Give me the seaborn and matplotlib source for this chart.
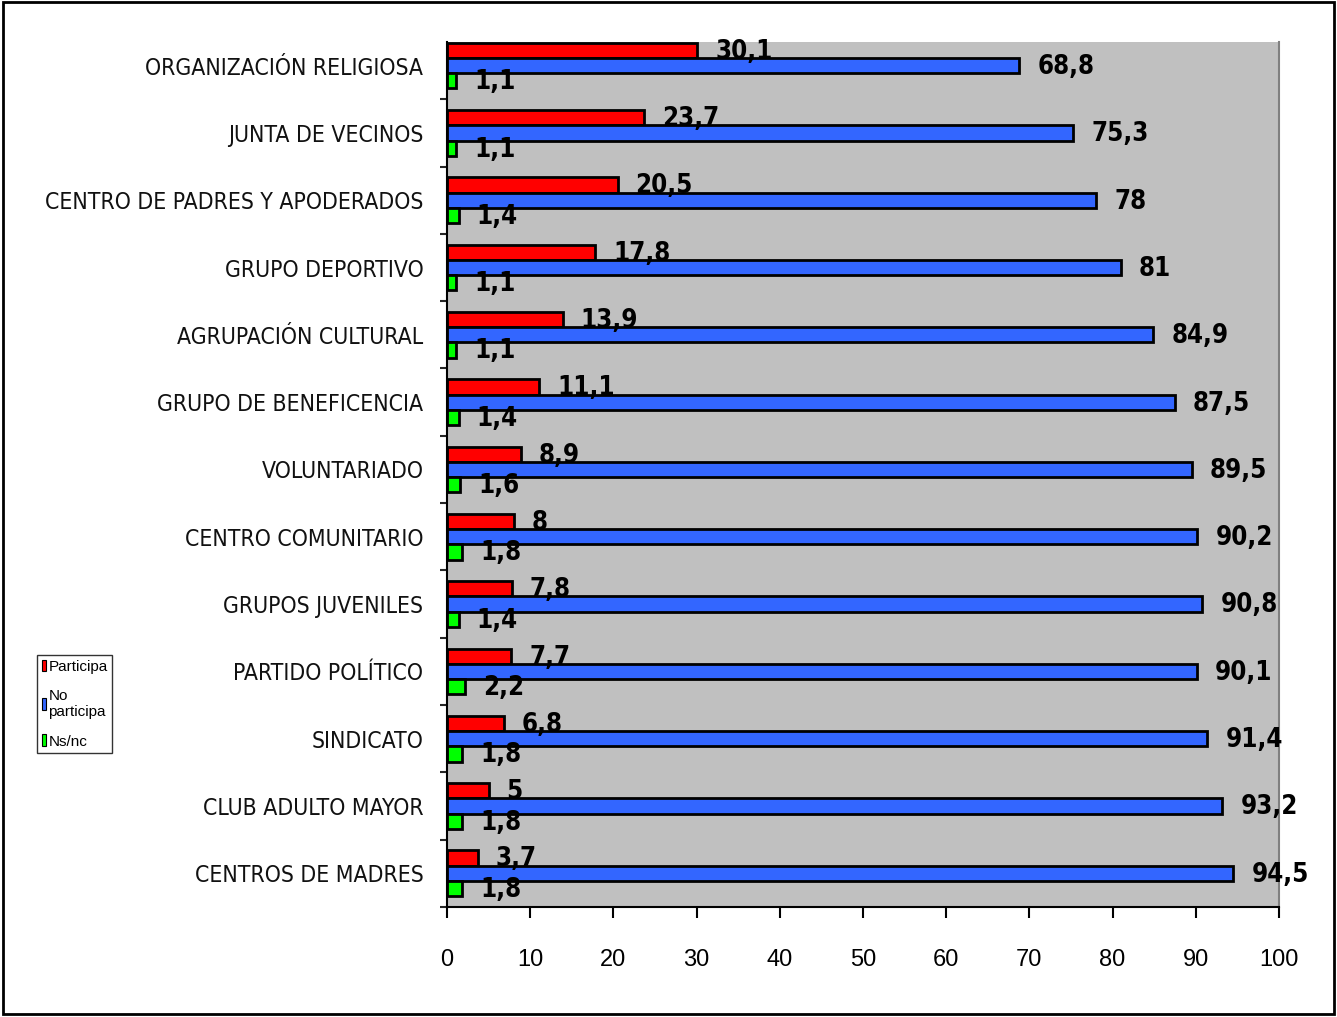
import numpy as np
import pandas as pd
import matplotlib
matplotlib.use("Agg")
import matplotlib.pyplot as plt
import matplotlib.patches as mpatches
from matplotlib import font_manager as fm
import seaborn as sns

categories = ["ORGANIZACIÓN RELIGIOSA", "JUNTA DE VECINOS", "CENTRO DE PADRES Y APODERADOS",
              "GRUPO DEPORTIVO", "AGRUPACIÓN CULTURAL", "GRUPO DE BENEFICENCIA",
              "VOLUNTARIADO", "CENTRO COMUNITARIO", "GRUPOS JUVENILES", "PARTIDO POLÍTICO",
              "SINDICATO", "CLUB ADULTO MAYOR", "CENTROS DE MADRES"]
participa = [30.1, 23.7, 20.5, 17.8, 13.9, 11.1, 8.9, 8, 7.8, 7.7, 6.8, 5, 3.7]
no_participa = [68.8, 75.3, 78, 81, 84.9, 87.5, 89.5, 90.2, 90.8, 90.1, 91.4, 93.2, 94.5]
ns_nc = [1.1, 1.1, 1.4, 1.1, 1.1, 1.4, 1.6, 1.8, 1.4, 2.2, 1.8, 1.8, 1.8]
series_names = ["Participa", "No participa", "Ns/nc"]
x_ticks = list(range(0, 101, 10))

colors = ["#FF0000", "#3366FF", "#00FF00"]

rows = []
for i, c in enumerate(categories):
    for name, vals in zip(series_names, [participa, no_participa, ns_nc]):
        rows.append({"cat": c, "serie": name, "valor": vals[i]})
df = pd.DataFrame(rows)

sns.set_style("white")
plt.rcParams['font.family'] = ['Liberation Sans', 'DejaVu Sans']

# choose a narrow font if available
names = {f.name for f in fm.fontManager.ttflist}
dejavu_cond = any(f.name == "DejaVu Sans" and f.stretch == "condensed" for f in fm.fontManager.ttflist)
if "Liberation Sans Narrow" in names:
    narrow = dict(family=["Liberation Sans Narrow", "DejaVu Sans"])
    val_size, cat_size = 21, 17.5
elif dejavu_cond:
    narrow = dict(family=["DejaVu Sans"], stretch="condensed")
    val_size, cat_size = 18.5, 16.5
else:
    narrow = dict(family=["Liberation Sans", "DejaVu Sans"])
    val_size, cat_size = 17, 15

fig = plt.figure(figsize=(13.37, 10.17), dpi=100)
ax = fig.add_axes([447/1337, 1-907/1017, (1279-447)/1337, (907-42)/1017])
ax.set_facecolor("#C0C0C0")

sns.barplot(data=df, y="cat", x="valor", hue="serie", order=categories,
            hue_order=series_names, palette=colors, orient="h", width=0.68,
            edgecolor="black", linewidth=2.0, saturation=1, ax=ax, legend=False)

def fmt(v):
    s = f"{v:g}"
    return s.replace(".", ",")

for cont in ax.containers:
    for bar in cont:
        w = bar.get_width()
        yc = bar.get_y() + bar.get_height() / 2
        ax.annotate(fmt(w), xy=(w, yc), xytext=(13, -1), textcoords="offset points",
                    ha="left", va="center", fontsize=val_size, fontweight="bold",
                    color="black", **narrow)

ax.set_xticks(x_ticks)
ax.set_xticklabels([str(t) for t in x_ticks], fontsize=17)
ax.tick_params(axis="x", length=8, width=1.5, direction="out", pad=22, colors="black", bottom=True)
ax.set_yticks(range(len(categories)))
ax.set_yticklabels(categories, fontsize=cat_size, color="#111111", **narrow)
ax.tick_params(axis="y", length=0, pad=17)
ax.set_yticks(np.arange(0.5, len(categories), 1), minor=True)
ax.tick_params(axis="y", which="minor", length=5, width=1.5, left=True, direction="out")
ax.set_xlabel("")
ax.set_ylabel("")
ax.set_xlim(0, 100)
ax.set_ylim(len(categories) - 0.5, -0.35)

ax.spines["top"].set_visible(False)
ax.spines["right"].set_color("#808080")
ax.spines["right"].set_linewidth(1.5)
ax.spines["left"].set_color("black")
ax.spines["left"].set_linewidth(1.5)
ax.spines["bottom"].set_color("black")
ax.spines["bottom"].set_linewidth(1.5)

handles = [mpatches.Patch(facecolor=c, edgecolor="black", linewidth=0.8) for c in colors]
leg = fig.legend(handles, ["Participa", "No\nparticipa", "Ns/nc"],
                 loc="upper left", bbox_to_anchor=(37/1337, 1-655/1017),
                 fontsize=11, handlelength=0.3, handleheight=0.8, handletextpad=0.15,
                 labelspacing=1.0, borderpad=0.3, borderaxespad=0, frameon=True,
                 fancybox=False, edgecolor="black")
leg.get_frame().set_linewidth(1.0)
for t in leg.get_texts():
    t.set_color("black")

border = mpatches.Rectangle((3/1337, 3/1017), 1331/1337, 1012/1017, transform=fig.transFigure,
                            fill=False, edgecolor="black", linewidth=2)
fig.patches.append(border)

fig.savefig("out.png", dpi=100)
